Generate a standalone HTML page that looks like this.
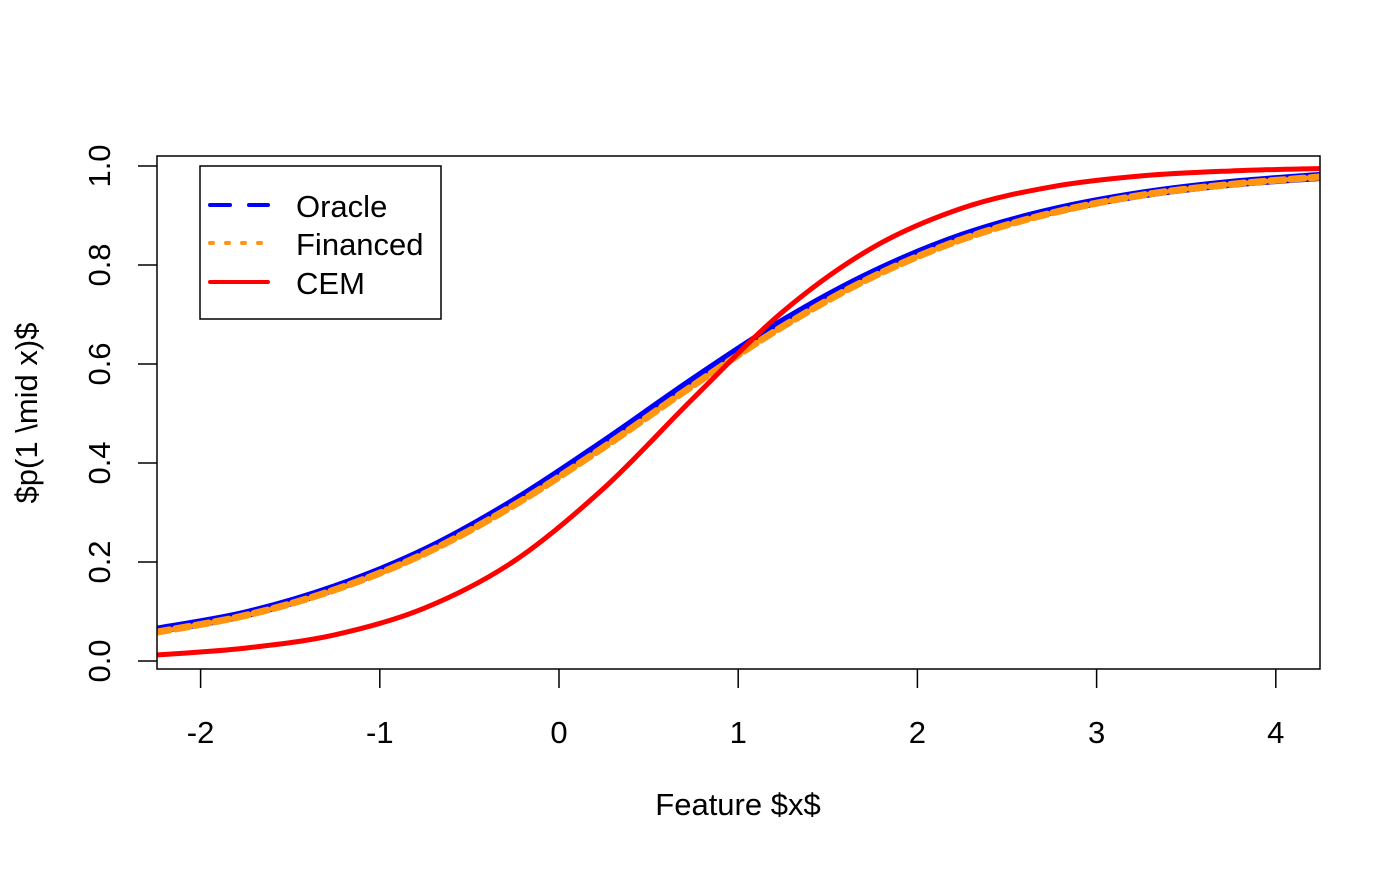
<!DOCTYPE html>
<html><head><meta charset="utf-8"><style>
body{margin:0;background:#fff;}
svg text{font-family:"Liberation Sans",Arial,sans-serif;fill:#000;}
</style></head><body>
<svg id="chart" width="1400" height="865" xmlns="http://www.w3.org/2000/svg">
<defs><clipPath id="clip"><rect x="157" y="156" width="1163" height="513"/></clipPath></defs>
<g id="curves" clip-path="url(#clip)"></g>
<rect x="157" y="156" width="1163" height="513" fill="none" stroke="#000" stroke-width="1.5"/>
<g id="axes"></g>
<text x="738" y="815" font-size="31" text-anchor="middle">Feature $x$</text>
<text transform="translate(37,413) rotate(-90)" font-size="31" text-anchor="middle">$p(1 \mid x)$</text>
<g>
<rect x="200" y="166" width="241" height="153" fill="#fff" stroke="#000" stroke-width="1.5"/>
<line x1="210" y1="205" x2="268" y2="205" stroke="#0000ff" stroke-width="4" stroke-linecap="round" stroke-dasharray="20,19"/>
<text x="296" y="217" font-size="31">Oracle</text>
<line x1="210" y1="243" x2="268" y2="243" stroke="#ff9510" stroke-width="4" stroke-linecap="round" stroke-dasharray="3,13"/>
<text x="296" y="255" font-size="31">Financed</text>
<line x1="210" y1="282" x2="268" y2="282" stroke="#ff0000" stroke-width="4" stroke-linecap="round"/>
<text x="296" y="294" font-size="31">CEM</text>
</g>
</svg>
<script>
const xs=[-2.25,-1.75,-1.25,-0.75,-0.25,0.25,0.75,1.25,1.75,2.25,2.75,3.25,3.75,4.25];
const oracle=[0.062,0.095,0.148,0.222,0.322,0.441,0.567,0.685,0.783,0.858,0.909,0.943,0.965,0.979];
const financed=[0.058,0.092,0.144,0.217,0.315,0.432,0.557,0.676,0.776,0.852,0.905,0.941,0.963,0.978];
const cem=[0.012,0.026,0.053,0.107,0.202,0.349,0.531,0.706,0.835,0.915,0.958,0.980,0.990,0.995];
const xTicks=[-2,-1,0,1,2,3,4];
const yTicks=[0,0.2,0.4,0.6,0.8,1.0];
const yTickLabels=["0.0","0.2","0.4","0.6","0.8","1.0"];
const X=v=>559+v*179.2, Y=v=>661-v*495;
const NS="http://www.w3.org/2000/svg";
function pathFor(vals){
  const p=xs.map((x,i)=>[X(x),Y(vals[i])]);
  let d="M"+p[0][0]+","+p[0][1];
  for(let i=0;i<p.length-1;i++){
    const p0=p[Math.max(i-1,0)],p1=p[i],p2=p[i+1],p3=p[Math.min(i+2,p.length-1)];
    d+=" C"+(p1[0]+(p2[0]-p0[0])/6)+","+(p1[1]+(p2[1]-p0[1])/6)+" "+(p2[0]-(p3[0]-p1[0])/6)+","+(p2[1]-(p3[1]-p1[1])/6)+" "+p2[0]+","+p2[1];
  }
  return d;
}
const g=document.getElementById('curves');
function add(vals,color,w,dash,name){
  const el=document.createElementNS(NS,'path');
  el.setAttribute('d',pathFor(vals));el.setAttribute('fill','none');
  el.setAttribute('stroke',color);el.setAttribute('stroke-width',w);
  if(dash){el.setAttribute('stroke-dasharray',dash);el.setAttribute('stroke-linecap','round');}
  
  
  g.appendChild(el);
}
add(oracle,'#0000ff',9,null,'oracle-line');
add(financed,'#ff9510',7,'14,6','financed-line');
add(cem,'#ff0000',5,null,'cem-line');
const a=document.getElementById('axes');
xTicks.forEach(t=>{
  const l=document.createElementNS(NS,'line');
  l.setAttribute('x1',X(t));l.setAttribute('x2',X(t));l.setAttribute('y1',669);l.setAttribute('y2',688);
  l.setAttribute('stroke','#000');l.setAttribute('stroke-width',1.5);
  
  
  a.appendChild(l);
  const tx=document.createElementNS(NS,'text');
  tx.setAttribute('x',X(t));tx.setAttribute('y',743);tx.setAttribute('font-size',31);tx.setAttribute('text-anchor','middle');
  tx.textContent=t;
  
  
  a.appendChild(tx);
});
yTicks.forEach((t,i)=>{
  const l=document.createElementNS(NS,'line');
  l.setAttribute('x1',138);l.setAttribute('x2',157);l.setAttribute('y1',Y(t));l.setAttribute('y2',Y(t));
  l.setAttribute('stroke','#000');l.setAttribute('stroke-width',1.5);
  
  
  a.appendChild(l);
  const tx=document.createElementNS(NS,'text');
  tx.setAttribute('transform','translate(110,'+Y(t)+') rotate(-90)');
  tx.setAttribute('font-size',31);tx.setAttribute('text-anchor','middle');
  tx.textContent=yTickLabels[i];
  
  
  a.appendChild(tx);
});
</script>
</body></html>
